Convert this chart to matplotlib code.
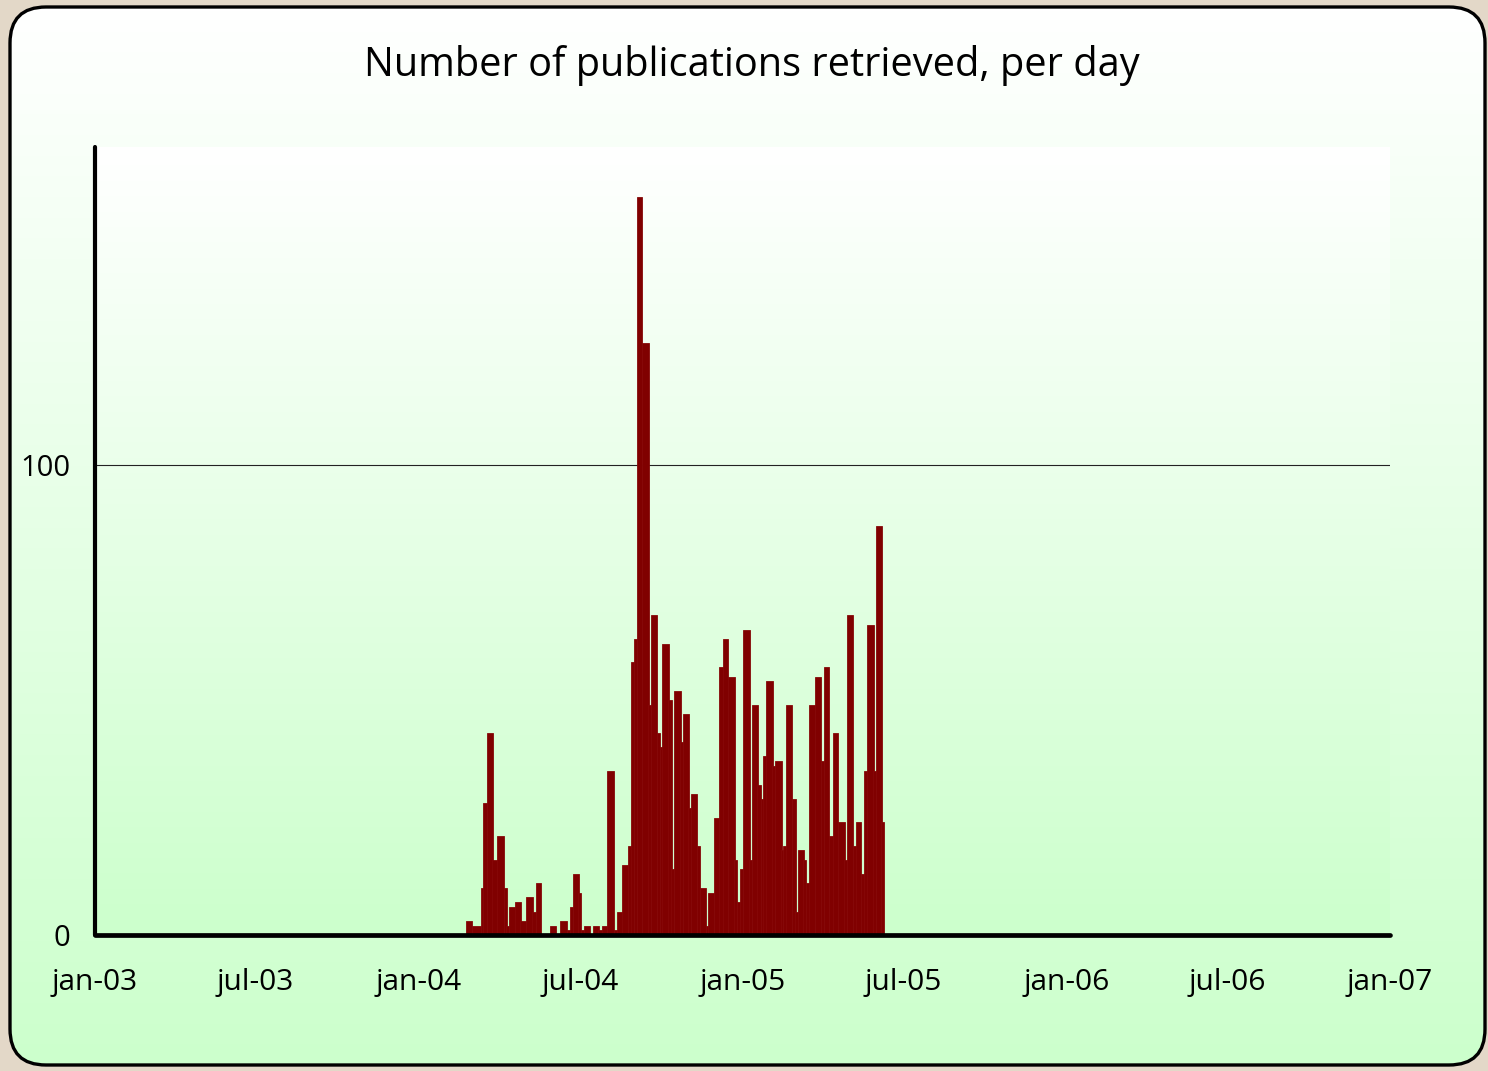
import numpy as np
import matplotlib
matplotlib.use("Agg")
import matplotlib.pyplot as plt
import matplotlib.dates as mdates
from matplotlib.patches import FancyBboxPatch
from matplotlib.ticker import FuncFormatter

# data: start day of each bar (days after 2004-01-01) and publications per day
day_offsets = [54, 60, 70, 73, 77, 83, 89, 96, 99, 102, 109, 115, 121, 128, 132,
               138, 148, 154, 160, 167, 171, 174, 180, 183, 187, 193, 197, 203,
               207, 213, 220, 224, 230, 236, 240, 243, 246, 252, 259, 262, 269,
               272, 275, 282, 285, 288, 295, 298, 304, 307, 314, 317, 324, 327,
               333, 339, 344, 349, 356, 359, 363, 366, 373, 376, 382, 386, 389,
               392, 399, 402, 409, 411, 415, 421, 425, 428, 434, 437, 441, 447,
               454, 457, 463, 468, 473, 480, 483, 490, 494, 499, 503, 506, 513,
               516, 522]
last_day = 525
counts = [3, 2, 10, 28, 43, 16, 21, 10, 2, 6, 7, 3, 8, 5, 11,
          0, 2, 0, 3, 1, 6, 13, 9, 1, 2, 0, 2, 1,
          2, 35, 1, 5, 15, 19, 58, 63, 157, 126, 49, 68, 43,
          40, 62, 50, 14, 52, 41, 47, 27, 30, 19, 10, 2, 9,
          25, 57, 63, 55, 16, 7, 14, 65, 16, 49, 32, 29, 38,
          54, 36, 37, 18, 19, 49, 29, 5, 18, 16, 11, 49, 55,
          37, 57, 21, 43, 24, 16, 68, 19, 24, 13, 35, 66, 35,
          87, 24]

tick_dates = ["2003-01-01", "2003-07-01", "2004-01-01", "2004-07-01",
              "2005-01-01", "2005-07-01", "2006-01-01", "2006-07-01", "2007-01-01"]
y_ticks = [0, 100]
title = "Number of publications retrieved, per day"

plt.rcParams['font.family'] = ['Open Sans', 'DejaVu Sans']

W, H = 1488, 1071
fig = plt.figure(figsize=(W / 100, H / 100), dpi=100, facecolor='#e3d8c8')

# background panel with rounded corners and a white->green gradient
bg = fig.add_axes([0, 0, 1, 1])
bg.set_xlim(0, W)
bg.set_ylim(H, 0)
bg.axis("off")
grad = np.linspace(0, 1, 256).reshape(-1, 1)
cmap = matplotlib.colors.LinearSegmentedColormap.from_list("g", ["#ffffff", "#ccffcc"])
img = bg.imshow(grad, extent=(10, 1485, 1065, 7), cmap=cmap, aspect='auto', zorder=1)
clip = FancyBboxPatch((10, 7), 1475, 1058, boxstyle="round,pad=0,rounding_size=36",
                      facecolor='none', edgecolor='none', transform=bg.transData)
bg.add_patch(clip)
img.set_clip_path(clip)
box = FancyBboxPatch((10, 7), 1475, 1058, boxstyle="round,pad=0,rounding_size=36",
                     facecolor='none', edgecolor='black', linewidth=2.4, zorder=3)
bg.add_patch(box)
bg.text(752, 66, title, ha='center', va='center', fontsize=28.6, color='black')

# plot area
left, right, top, bottom = 95, 1390, 147, 935
ax = fig.add_axes([left / W, 1 - bottom / H, (right - left) / W, (bottom - top) / H])
ax.patch.set_alpha(0)
ax.imshow(grad, extent=(0, 1, 0, 1), origin='upper', transform=ax.transAxes,
          cmap=cmap, aspect='auto', zorder=0)

base = np.datetime64("2004-01-01")
starts = np.array(day_offsets)
widths = np.diff(np.append(starts, last_day))
x = mdates.date2num(base + starts.astype("timedelta64[D]"))
vals = np.array(counts)
keep = vals > 0
ax.bar(x[keep], vals[keep], width=widths[keep] + 0.6, align='edge',
       color='#800000', edgecolor='#860808', linewidth=0.6, zorder=3)

ax.axhline(100, color='#222222', linewidth=0.8, zorder=2)

x0 = mdates.date2num(np.datetime64("2003-01-01"))
x1 = mdates.date2num(np.datetime64("2007-01-01"))
ax.set_xlim(x0, x1)
ax.set_ylim(0, 167.7)

for s in ax.spines.values():
    s.set_visible(False)
ax.plot([x0, x0], [0, 167.7], color='black', linewidth=3, solid_capstyle='round',
        clip_on=False, zorder=5)
ax.plot([x0, x1], [0, 0], color='black', linewidth=3.4, solid_capstyle='round',
        clip_on=False, zorder=5)

ax.set_xticks(mdates.date2num(np.array(tick_dates, dtype="datetime64[D]")))
ax.xaxis.set_major_formatter(FuncFormatter(
    lambda v, p: mdates.num2date(v).strftime("%b-%y").lower()))
ax.set_yticks(y_ticks)
ax.tick_params(axis='x', length=0, pad=24, labelsize=21.5)
ax.tick_params(axis='y', length=0, pad=18, labelsize=21)

fig.savefig("out.png", dpi=100, facecolor=fig.get_facecolor())
